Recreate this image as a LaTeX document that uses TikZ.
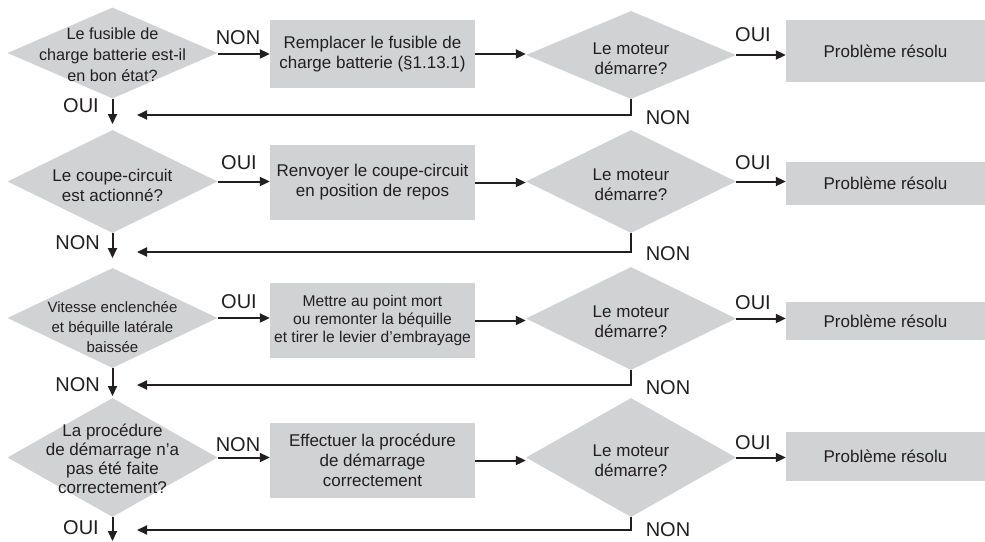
\documentclass[tikz,border=0pt]{standalone}
\usepackage{fontspec}
\setmainfont{Liberation Sans}
\usetikzlibrary{shapes.geometric,arrows.meta}
\definecolor{boxgray}{RGB}{209,210,212}
\definecolor{ink}{RGB}{35,31,32}
\begin{document}
\begin{tikzpicture}[x=1pt,y=-1pt,
  dia/.style={diamond,fill=boxgray,inner sep=0pt,minimum width=210pt},
  box/.style={rectangle,fill=boxgray,inner sep=0pt,align=center,text=ink,
              font=\fontsize{17}{20}\selectfont},
  txt/.style={align=center,text=ink,inner sep=0pt,font=\fontsize{17}{20}\selectfont},
  lbl/.style={text=ink,inner sep=0pt,font=\fontsize{20}{24}\selectfont},
  arr/.style={draw=ink,line width=2pt,-{Triangle[length=10pt,width=9pt]}},
]
\useasboundingbox (0,0) rectangle (985,541);

% ---------- Row 1 ----------
\node[dia,minimum height=91pt] (a1) at (112.5,53) {};
\node[txt,font=\fontsize{16.2}{21}\selectfont] (ta1) at (112.5,55) {Le fusible de\\charge batterie est-il\\en bon état?};
\node[box,minimum width=205pt,minimum height=68pt] (m1) at (372.5,54) {Remplacer le fusible de\\charge batterie (§1.13.1)};
\node[dia,minimum height=88pt] (b1) at (631,55) {};
\node[txt] (tb1) at (631,59) {Le moteur\\démarre?};
\node[box,minimum width=199pt,minimum height=62pt] (p1) at (885.5,51) {Problème résolu};
\coordinate (r1) at (137,115);
\coordinate (d1) at (112.5,124);
\draw[arr] (a1.east |- m1.west) -- (m1.west);
\draw[arr] (m1.east) -- (b1.west |- m1.east);
\draw[arr] (b1.east) -- (b1.east -| p1.west);
\draw[arr] (b1.south) |- (r1);
\draw[arr] (a1.south) -- (d1);
\node[lbl] (n1) at (238,38) {NON};
\node[lbl] (o1) at (753,35) {OUI};
\node[lbl,anchor=east] (o1l) at (99,106) {OUI};
\node[lbl] (n1r) at (668,118) {NON};

% ---------- Row 2 ----------
\node[dia,minimum height=103pt] (a2) at (112.5,181.5) {};
\node[txt] (ta2) at (112.5,185) {Le coupe-circuit\\est actionné?};
\node[box,minimum width=205pt,minimum height=75pt] (m2) at (372.5,182.5) {Renvoyer le coupe-circuit\\en position de repos};
\node[dia,minimum height=103pt] (b2) at (631,181.5) {};
\node[txt] (tb2) at (631,185) {Le moteur\\démarre?};
\node[box,minimum width=199pt,minimum height=43pt] (p2) at (885.5,183.5) {Problème résolu};
\coordinate (r2) at (137,252);
\coordinate (d2) at (112.5,258);
\draw[arr] (a2.east) -- (a2.east -| m2.west);
\draw[arr] (m2.east) -- (b2.west |- m2.east);
\draw[arr] (b2.east) -- (b2.east -| p2.west);
\draw[arr] (b2.south) |- (r2);
\draw[arr] (a2.south) -- (d2);
\node[lbl] (o2) at (239,163) {OUI};
\node[lbl] (o2r) at (753,163) {OUI};
\node[lbl,anchor=east] (n2l) at (100,243) {NON};
\node[lbl] (n2r) at (668,254) {NON};

% ---------- Row 3 ----------
\node[dia,minimum height=100pt] (a3) at (112.5,318) {};
\node[txt,font=\fontsize{15}{20}\selectfont] (ta3) at (112.5,327) {Vitesse enclenchée\\et béquille latérale\\baissée};
\node[box,minimum width=205pt,minimum height=75pt,font=\fontsize{15.6}{18}\selectfont] (m3) at (372.5,320.5) {Mettre au point mort\\ou remonter la béquille\\et tirer le levier d’embrayage};
\node[dia,minimum height=103pt] (b3) at (631,318.5) {};
\node[txt] (tb3) at (631,322) {Le moteur\\démarre?};
\node[box,minimum width=199pt,minimum height=38pt] (p3) at (885.5,321) {Problème résolu};
\coordinate (r3) at (137,385);
\coordinate (d3) at (112.5,396);
\draw[arr] (a3.east) -- (a3.east -| m3.west);
\draw[arr] (m3.east) -- (b3.west |- m3.east);
\draw[arr] (b3.east) -- (b3.east -| p3.west);
\draw[arr] (b3.south) |- (r3);
\draw[arr] (a3.south) -- (d3);
\node[lbl] (o3) at (239,302) {OUI};
\node[lbl] (o3r) at (753,303) {OUI};
\node[lbl,anchor=east] (n3l) at (100,385) {NON};
\node[lbl] (n3r) at (668,388) {NON};

% ---------- Row 4 ----------
\node[dia,minimum height=119pt] (a4) at (112.5,457.5) {};
\node[txt,font=\fontsize{17}{19}\selectfont] (ta4) at (112.5,459) {La procédure\\de démarrage n’a\\pas été faite\\correctement?};
\node[box,minimum width=205pt,minimum height=75pt] (m4) at (372.5,460.5) {Effectuer la procédure\\de démarrage\\correctement};
\node[dia,minimum height=119pt] (b4) at (631,457.5) {};
\node[txt] (tb4) at (631,461) {Le moteur\\démarre?};
\node[box,minimum width=199pt,minimum height=49pt] (p4) at (885.5,456.5) {Problème résolu};
\coordinate (r4) at (137,530);
\coordinate (d4) at (112.5,541);
\draw[arr] (a4.east) -- (a4.east -| m4.west);
\draw[arr] (m4.east) -- (b4.west |- m4.east);
\draw[arr] (b4.east) -- (b4.east -| p4.west);
\draw[arr] (b4.south) |- (r4);
\draw[arr] (a4.south) -- (d4);
\node[lbl] (n4) at (238,445) {NON};
\node[lbl] (o4r) at (753,443) {OUI};
\node[lbl,anchor=east] (o4l) at (99,528) {OUI};
\node[lbl] (n4r) at (668,530) {NON};
\end{tikzpicture}
\end{document}
